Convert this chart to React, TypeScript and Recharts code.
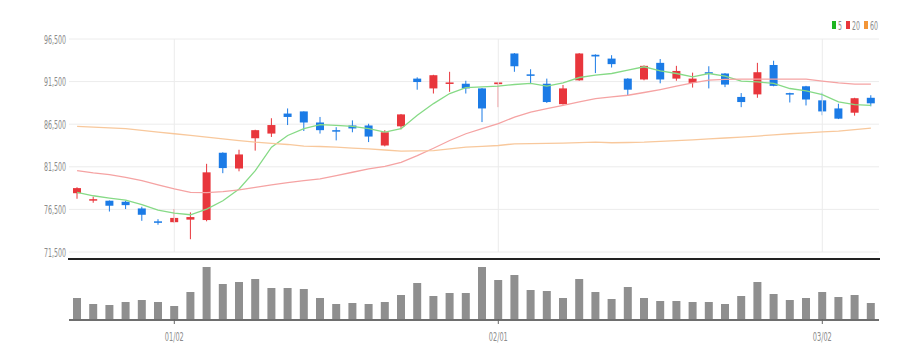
import React from 'react';
import {
  ComposedChart,
  BarChart,
  Bar,
  Line,
  XAxis,
  YAxis,
  CartesianGrid,
  ReferenceLine,
} from 'recharts';

// ---------------------------------------------------------------------------
// Data
// ---------------------------------------------------------------------------

const dates = [
  '12/22', '12/23', '12/26', '12/27', '12/28', '12/29',
  '01/02', '01/03', '01/04', '01/05', '01/06', '01/09', '01/10', '01/11', '01/12', '01/13',
  '01/16', '01/17', '01/18', '01/19', '01/20', '01/25', '01/26', '01/27', '01/30', '01/31',
  '02/01', '02/02', '02/03', '02/06', '02/07', '02/08', '02/09', '02/10', '02/13', '02/14',
  '02/15', '02/16', '02/17', '02/20', '02/21', '02/22', '02/23', '02/24', '02/27', '02/28',
  '03/02', '03/03', '03/06', '03/07',
];

const opens = [
  78400, 77600, 77520, 77400, 76610, 75100, 75000, 75300, 75250, 83150,
  81300, 84850, 85400, 87750, 88000, 86700, 85800, 86350, 86350, 84000,
  86250, 91850, 90700, 91300, 91250, 90700, 91200, 94800, 92350, 91250,
  88850, 91650, 94650, 94200, 91850, 91750, 93700, 91850, 91350, 92600,
  92450, 89700, 90000, 93450, 90150, 90950, 89300, 88350, 87850, 89600,
];
const highs = [
  79100, 77990, 77550, 77520, 76810, 75350, 76540, 76150, 81850, 83200,
  83500, 85850, 87200, 88350, 88000, 87350, 86150, 86950, 86550, 85800,
  87700, 92000, 92300, 92650, 91600, 90750, 91400, 94850, 92950, 91850,
  91100, 94850, 94700, 94600, 91900, 93400, 94150, 93350, 92550, 93300,
  92500, 90150, 93700, 93950, 90200, 91000, 90200, 88900, 89600, 89900,
];
const lows = [
  77750, 77280, 76250, 76540, 75160, 74700, 74920, 73000, 75100, 80750,
  80970, 83400, 85000, 86400, 85700, 85400, 84600, 85550, 84400, 83900,
  85900, 90550, 90100, 90300, 90100, 86750, 88500, 92650, 91300, 89000,
  88800, 91600, 92500, 93150, 89900, 91650, 91300, 91600, 90800, 90700,
  90850, 88500, 89600, 90950, 89050, 88700, 87550, 87100, 87500, 88600,
];
const closes = [
  79000, 77700, 76930, 77000, 75870, 75000, 75500, 75600, 80850, 81350,
  82950, 85800, 86400, 87350, 86700, 85800, 85700, 86000, 85050, 85550,
  87650, 91450, 92250, 91400, 90700, 88350, 91400, 93300, 92200, 89100,
  90700, 94800, 94450, 93550, 90550, 93350, 91750, 92750, 91850, 92500,
  91150, 89100, 92600, 91000, 90000, 89400, 88000, 87150, 89550, 88950,
];

const ma5 = [
  78500, 78100, 77830, 77600, 77050, 76420, 76070, 75870, 76540, 77520,
  78900, 81050, 83800, 85180, 85970, 86450, 86360, 86240, 85970, 85570,
  85970, 87540, 88920, 90100, 90800, 90880, 90960, 91160, 91280, 90960,
  91350, 91980, 92250, 92450, 92850, 93240, 92770, 92450, 92060, 92450,
  92140, 91550, 91470, 91280, 90690, 90410, 89980, 89110, 88800, 88720,
];
const ma20 = [
  81050, 80790, 80590, 80270, 79880, 79370, 78900, 78500, 78460, 78580,
  78780, 79090, 79370, 79640, 79880, 80080, 80470, 80860, 81250, 81560,
  82030, 82820, 83680, 84590, 85380, 85970, 86560, 87340, 87930, 88330,
  88720, 89110, 89510, 89700, 89900, 90220, 90570, 90960, 91350, 91670,
  91750, 91780, 91780, 91780, 91780, 91780, 91550, 91350, 91200, 91200,
];
const ma60 = [
  86240, 86150, 86060, 85970, 85780, 85580, 85380, 85180, 84980, 84780,
  84580, 84390, 84250, 84120, 83920, 83880, 83800, 83700, 83610, 83470,
  83330, 83370, 83410, 83600, 83800, 83900, 84000, 84200, 84220, 84250,
  84270, 84330, 84390, 84320, 84350, 84390, 84480, 84580, 84670, 84770,
  84880, 84980, 85110, 85250, 85380, 85480, 85590, 85690, 85870, 86040,
];

// volume, in 10k shares
const volumes = [
  22, 16, 15, 18, 20, 18, 14, 28, 53, 36,
  38, 41, 32, 32, 31, 22, 16, 17, 16, 18,
  25, 37, 24, 27, 27, 53, 40, 45, 30, 29,
  22, 41, 28, 21, 33, 22, 19, 19, 18, 18,
  16, 24, 38, 26, 20, 22, 28, 23, 25, 17,
];

const priceTicks = [71500, 76500, 81500, 86500, 91500, 96500];
const dateTicks = ['01/02', '02/01', '03/02'];

// ---------------------------------------------------------------------------
// Styles
// ---------------------------------------------------------------------------

const UP = '#e8363c';
const DOWN = '#1b7be6';
const FONT = "'Liberation Sans Narrow', 'DejaVu Sans Condensed', 'Liberation Sans', sans-serif";
const GRID = '#ececec';
const TEXT = '#8c8c8c';

const maSeries = [
  { key: 'ma5', name: '5', line: '#86da86', mark: '#1fb51f' },
  { key: 'ma20', name: '20', line: '#f5a3a3', mark: '#e8363c' },
  { key: 'ma60', name: '60', line: '#f8c89c', mark: '#f39536' },
];

const data = dates.map((d, i) => ({
  date: d,
  open: opens[i],
  high: highs[i],
  low: lows[i],
  close: closes[i],
  range: [lows[i], highs[i]],
  ma5: ma5[i],
  ma20: ma20[i],
  ma60: ma60[i],
  volume: volumes[i],
}));

// ---------------------------------------------------------------------------
// Custom pieces
// ---------------------------------------------------------------------------

const Candle = (props: any) => {
  const { x, y, width, height, payload } = props;
  if (x == null || y == null) return null;
  const { open, close, high, low } = payload;
  const color = close >= open ? UP : DOWN;
  const top = Math.min(y, y + height);
  const h = Math.abs(height);
  const span = high - low || 1;
  const py = (p: number) => top + ((high - p) / span) * h;
  const cx = x + width / 2;
  const bodyTop = py(Math.max(open, close));
  const bodyBot = py(Math.min(open, close));
  return (
    <g>
      <line x1={cx} x2={cx} y1={top} y2={top + h} stroke={color} strokeWidth={1} />
      <rect x={x} y={bodyTop} width={width} height={Math.max(bodyBot - bodyTop, 1.5)} fill={color} />
    </g>
  );
};

const PriceTick = ({ x, y, payload }: any) => (
  <text
    x={x}
    y={y}
    dy={4.5}
    textAnchor="end"
    fontSize={12}
    fontFamily={FONT}
    fill={TEXT}
    textLength={22}
    lengthAdjust="spacingAndGlyphs"
  >
    {Number(payload.value).toLocaleString('en-US')}
  </text>
);

const DateTick = ({ x, y, payload }: any) => {
  if (!dateTicks.includes(payload.value)) return null;
  return (
    <g>
      <line x1={x} x2={x} y1={y - 1} y2={y + 4} stroke="#666" strokeWidth={1} />
      <text
        x={x}
        y={y + 21}
        textAnchor="middle"
        fontSize={13}
        fontFamily={FONT}
        fill={TEXT}
        textLength={19}
        lengthAdjust="spacingAndGlyphs"
      >
        {payload.value}
      </text>
    </g>
  );
};

const MaLegend = () => (
  <svg width={60} height={16} style={{ display: 'block', overflow: 'visible' }}>
    {maSeries.map((s, i) => {
      const x0 = [0, 14, 32][i];
      return (
        <g key={s.key}>
          <rect x={x0} y={3} width={4} height={8} fill={s.mark} />
          <text
            x={x0 + 6}
            y={11.5}
            fontSize={12}
            fontFamily={FONT}
            fill={TEXT}
            textLength={s.name.length * 4}
            lengthAdjust="spacingAndGlyphs"
          >
            {s.name}
          </text>
        </g>
      );
    })}
  </svg>
);

// ---------------------------------------------------------------------------
// Chart
// ---------------------------------------------------------------------------

export default function App() {
  return (
    <div style={{ position: 'absolute', left: 0, top: 0, width: 924, height: 360, background: '#fff' }}>
      <div style={{ position: 'absolute', left: 0, top: 0 }}>
        <ComposedChart width={924} height={262} data={data} margin={{ top: 39, right: 45, left: 7, bottom: 10 }}>
          <CartesianGrid horizontal vertical={false} stroke={GRID} />
          <XAxis dataKey="date" hide />
          <YAxis
            domain={[71500, 96500]}
            ticks={priceTicks}
            width={62}
            axisLine={false}
            tickLine={false}
            tickSize={0}
            tickMargin={3}
            tick={<PriceTick />}
            allowDataOverflow
          />
          {dateTicks.map((d) => (
            <ReferenceLine key={d} x={d} stroke={GRID} />
          ))}
          {maSeries.map((s) => (
            <Line
              key={s.key}
              dataKey={s.key}
              name={s.name}
              stroke={s.line}
              strokeWidth={1.3}
              dot={false}
              activeDot={false}
              isAnimationActive={false}
            />
          ))}
          <Bar dataKey="range" barSize={8} shape={<Candle />} isAnimationActive={false} />
        </ComposedChart>
      </div>

      <div style={{ position: 'absolute', left: 832, top: 18 }}>
        <MaLegend />
      </div>

      <div style={{ position: 'absolute', left: 68, top: 258, width: 812, height: 2, background: '#222' }} />

      <div style={{ position: 'absolute', left: 0, top: 255 }}>
        <BarChart width={924} height={105} data={data} margin={{ top: 7, right: 45, left: 69, bottom: 10 }}>
          <XAxis
            dataKey="date"
            interval={0}
            height={30}
            axisLine={{ stroke: '#6e6e6e', strokeWidth: 2 }}
            tickLine={false}
            tickSize={0}
            tickMargin={0}
            tick={<DateTick />}
          />
          <YAxis hide domain={[0, 58]} />
          <Bar dataKey="volume" fill="#8f8f8f" barSize={8} isAnimationActive={false} />
        </BarChart>
      </div>
    </div>
  );
}
